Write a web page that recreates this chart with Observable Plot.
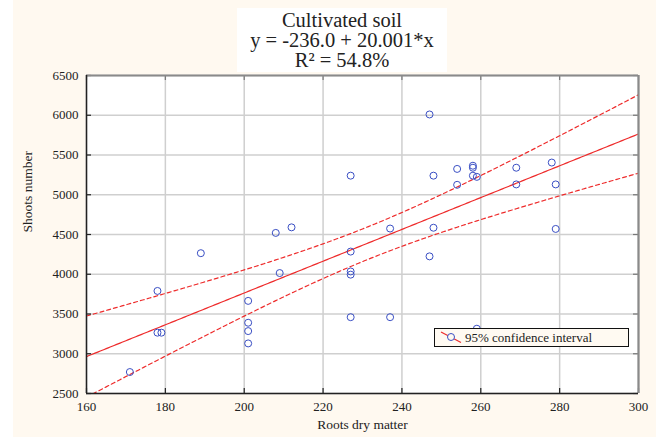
<!DOCTYPE html>
<html>
<head>
<meta charset="utf-8">
<script src="https://cdn.jsdelivr.net/npm/d3@7"></script>
<script src="https://cdn.jsdelivr.net/npm/@observablehq/plot@0.6"></script>
<style>
  html, body { margin: 0; padding: 0; background: #ffffff; }
  #wrap { position: relative; width: 664px; height: 437px; overflow: hidden; background: #ffffff; }
  #panel { position: absolute; left: 13px; top: 0; width: 643px; height: 437px; background: #fff9f0; }
  #chart { position: absolute; left: 0; top: 0; }
  #title { position: absolute; left: 237px; top: 8px; width: 210px; height: 64px; background: #ffffff;
           font-family: "Liberation Serif", serif; font-size: 20.5px; color: #222;
           text-align: center; }
  #title div { position: absolute; left: 0; width: 100%; line-height: 20px; }
  #legend { position: absolute; left: 434px; top: 328px; width: 195px; height: 19px; box-sizing: border-box;
            border: 1.5px solid #111; background: #fffaf2; font-family: "Liberation Serif", serif;
            font-size: 13px; color: #222; }
  #legend svg { position: absolute; left: 0; top: 0; }
  #legend span { position: absolute; left: 30px; top: 1px; line-height: 15px; white-space: nowrap; }
</style>
</head>
<body>
<div id="wrap">
  <div id="panel"></div>
  <div id="chart"></div>
  <div id="title"></div>
  <div id="legend"></div>
</div>
<script>
// ---- Data ----
const rootsDryMatter = [171, 178, 178, 179, 189, 201, 201, 201, 201, 208, 209, 212,
  227, 227, 227, 227, 227, 237, 237, 247, 247, 248, 248, 254, 254, 258, 258, 258,
  259, 259, 269, 269, 278, 279, 279];
const shootsNumber = [2770, 3790, 3265, 3265, 4265, 3665, 3390, 3285, 3130, 4520, 4015, 4590,
  5240, 4285, 4035, 3995, 3460, 4575, 3460, 6010, 4225, 5240, 4585, 5325, 5125, 5365, 5340, 5240,
  5225, 3315, 5340, 5130, 5405, 5130, 4570];
const intercept = -236.0;
const slope = 20.001;
const xTicks = [160, 180, 200, 220, 240, 260, 280, 300];
const yTicks = [2500, 3000, 3500, 4000, 4500, 5000, 5500, 6000, 6500];
const titleLines = ["Cultivated soil", "y = -236.0 + 20.001*x", "R\u00B2 = 54.8%"];
const xLabel = "Roots dry matter";
const yLabel = "Shoots number";
const legendLabel = "95% confidence interval";

// ---- Build table and 95% confidence band of the fitted line ----
const points = rootsDryMatter.map((x, i) => ({x, y: shootsNumber[i]}));
const n = points.length;
const xMean = d3.mean(points, d => d.x);
const sxx = d3.sum(points, d => (d.x - xMean) ** 2);
const sse = d3.sum(points, d => (d.y - (intercept + slope * d.x)) ** 2);
const s = Math.sqrt(sse / (n - 2));
const tCrit = 2.0345; // t(0.975, 33)
const curve = d3.range(xTicks[0], xTicks[xTicks.length - 1] + 0.5, 0.5).map(x => {
  const fit = intercept + slope * x;
  const h = tCrit * s * Math.sqrt(1 / n + (x - xMean) ** 2 / sxx);
  return {x, fit, upper: fit + h, lower: fit - h};
});

const W = 664, H = 437, mL = 86, mR = 26, mT = 75, mB = 44;
const pw = W - mL - mR, ph = H - mT - mB;
const red = "#ee2b2b";

const chart = Plot.plot({
  width: W, height: H,
  marginLeft: mL, marginRight: mR, marginTop: mT, marginBottom: mB,
  x: {domain: [xTicks[0], xTicks[xTicks.length - 1]]},
  y: {domain: [yTicks[0], yTicks[yTicks.length - 1]]},
  style: {background: "transparent", fontFamily: "Liberation Serif, serif", fontSize: "13px", color: "#222"},
  marks: [
    Plot.frame({fill: "white", stroke: null}),
    Plot.gridX(xTicks, {stroke: "#cfcfcf", strokeOpacity: 1, strokeWidth: 1.5}),
    Plot.gridY(yTicks, {stroke: "#cfcfcf", strokeOpacity: 1, strokeWidth: 1.5}),
    Plot.line(curve, {x: "x", y: "fit", stroke: red, strokeWidth: 1.2, clip: true}),
    Plot.line(curve, {x: "x", y: "upper", stroke: red, strokeWidth: 1.2, strokeDasharray: "4,3", clip: true}),
    Plot.line(curve, {x: "x", y: "lower", stroke: red, strokeWidth: 1.2, strokeDasharray: "4,3", clip: true}),
    Plot.dot(points, {x: "x", y: "y", r: 3.5, stroke: "#3a4fc4", strokeWidth: 1, fill: "none"}),
    // inward ticks
    Plot.tickY(yTicks, {y: d => d, insetRight: pw - 5, stroke: "#222", strokeWidth: 1.2}),
    Plot.tickY(yTicks, {y: d => d, insetLeft: pw - 5, stroke: "#777", strokeWidth: 1.2}),
    Plot.tickX(xTicks, {x: d => d, insetTop: ph - 5, stroke: "#222", strokeWidth: 1.2}),
    Plot.tickX(xTicks, {x: d => d, insetBottom: ph - 5, stroke: "#777", strokeWidth: 1.2}),
    // frame
    Plot.ruleY([yTicks[yTicks.length - 1]], {stroke: "#8a8a8a", strokeWidth: 2.2}),
    Plot.ruleX([xTicks[xTicks.length - 1]], {stroke: "#8a8a8a", strokeWidth: 2.2}),
    Plot.ruleX([xTicks[0]], {stroke: "#222", strokeWidth: 1.5}),
    Plot.ruleY([yTicks[0]], {stroke: "#222", strokeWidth: 1.5}),
    // axes
    Plot.axisX(xTicks, {tickSize: 0, tickPadding: 8, label: null, tickFormat: d => String(d), fontSize: 13}),
    Plot.axisY(yTicks, {tickSize: 0, tickPadding: 8, label: null, tickFormat: d => String(d), fontSize: 13}),
    Plot.text([xLabel], {frameAnchor: "bottom", dy: 35, fontSize: 13.5, fill: "#222"}),
    Plot.text([yLabel], {frameAnchor: "left", dx: -59, dy: -2, rotate: -90, fontSize: 13.5, fill: "#222"})
  ]
});
document.getElementById("chart").appendChild(chart);

// title: three centred lines, 20px apart
const title = document.getElementById("title");
titleLines.forEach((t, i) => {
  const d = document.createElement("div");
  d.textContent = t;
  d.style.top = (2 + i * 20) + "px";
  title.appendChild(d);
});

// legend
const legend = document.getElementById("legend");
legend.innerHTML = `<svg width="30" height="17">
  <line x1="6" y1="3" x2="26" y2="13.5" stroke="${red}" stroke-width="1.2"/>
  <circle cx="16" cy="8" r="3.5" fill="#fffaf2" stroke="#3a4fc4" stroke-width="1"/>
</svg><span></span>`;
legend.querySelector("span").textContent = legendLabel;
</script>
</body>
</html>
